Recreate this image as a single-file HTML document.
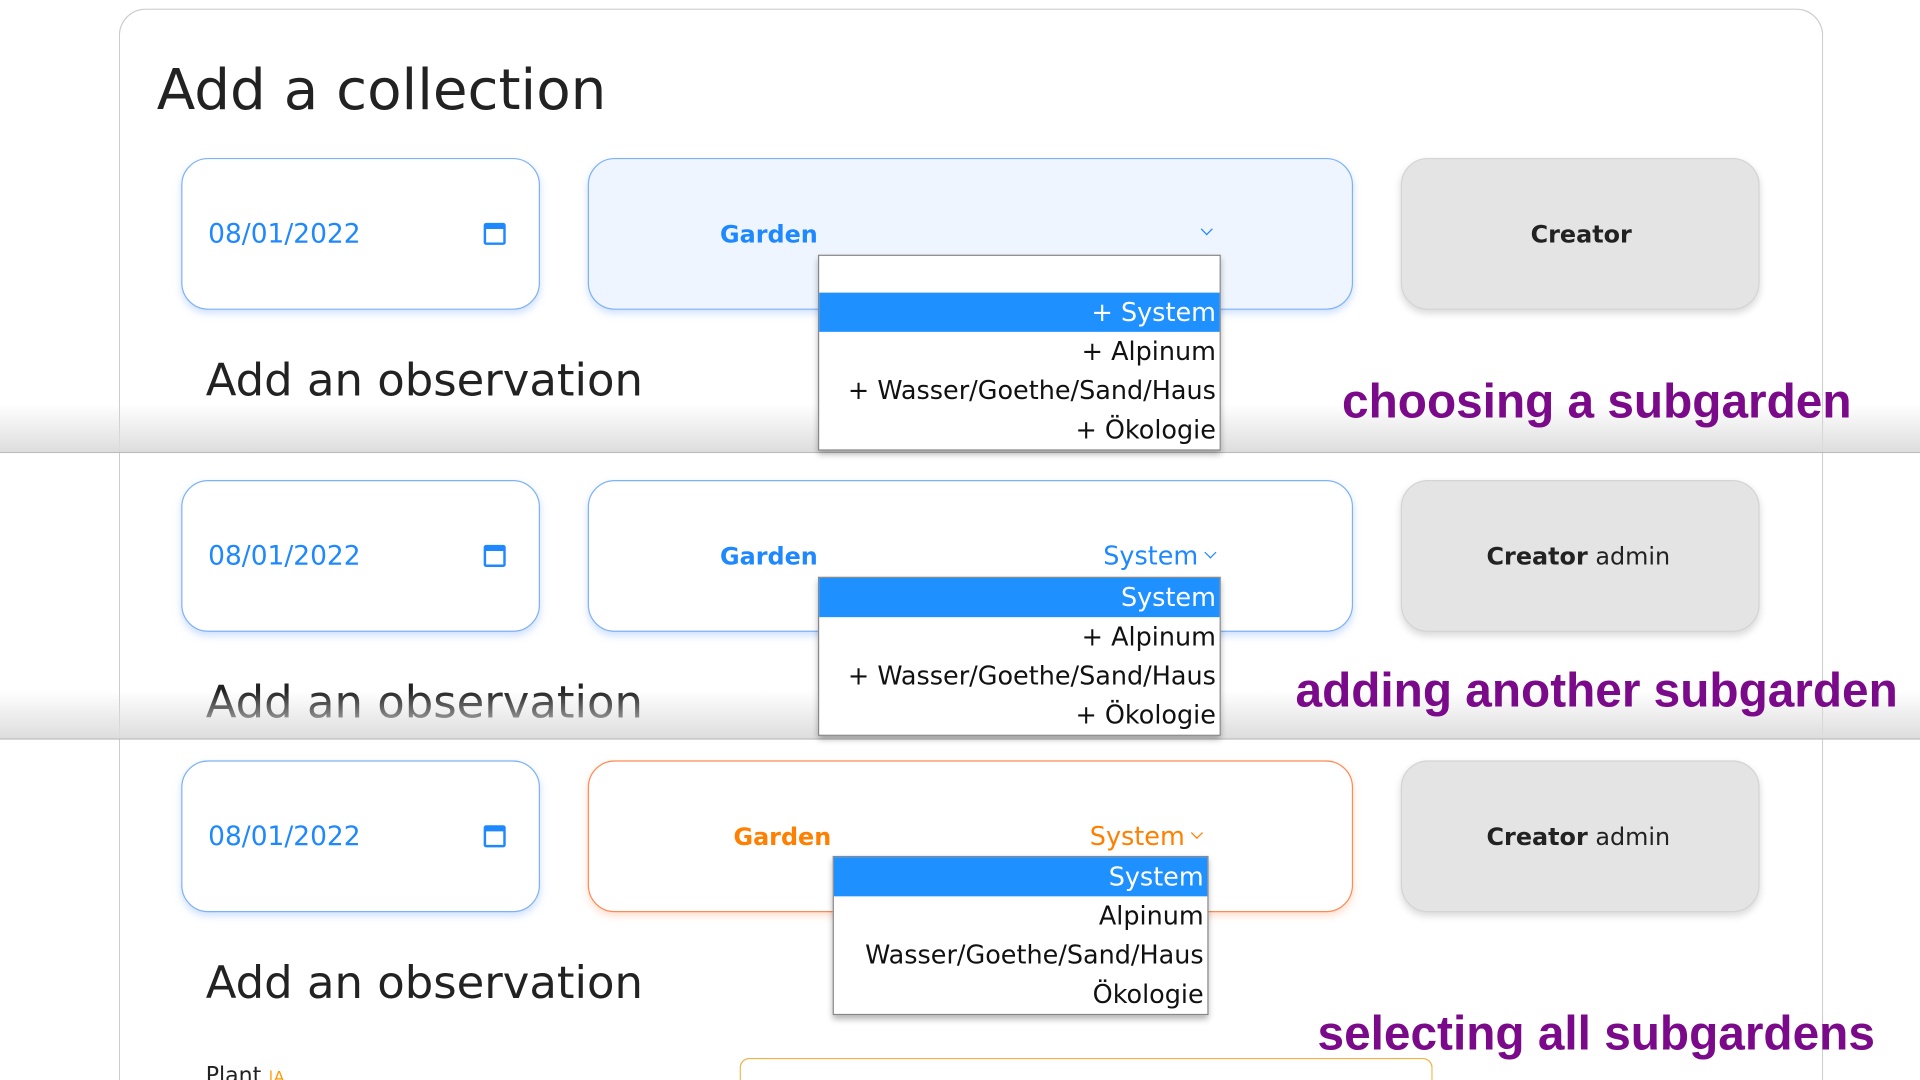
<!DOCTYPE html>
<html><head><meta charset="utf-8"><style>
*{box-sizing:border-box;margin:0;padding:0}
html,body{width:1920px;height:1080px;overflow:hidden;background:#fff}
#w{position:absolute;left:0;top:0;width:1568px;height:882px;overflow:hidden;transform:scale(1.22449);transform-origin:0 0;font-family:"DejaVu Sans","Liberation Sans",sans-serif;color:#222}
.a{position:absolute}
.card{left:97px;top:7px;width:1392px;height:875px;border:1px solid #ccc;border-bottom:none;border-radius:22px 22px 0 0;background:#fff}
.box{position:absolute;border-radius:22px;border:1.5px solid #7fb2f5;box-shadow:0 3px 6px rgba(120,170,255,.35);background:#fff}
.cr{background:#e4e4e4;border:1.5px solid #d4d4d4;box-shadow:0 3px 6px rgba(0,0,0,.15)}
.t{position:absolute;white-space:nowrap}
.date{color:#1e88ff;font-size:21.6px}
.g{color:#1e88ff;font-weight:bold;font-size:19.5px}
.dd{position:absolute;background:#fff;border:1px solid #888;box-shadow:0 3px 5px rgba(0,0,0,.3);font-size:20.8px;color:#111}
.dd div{height:32px;line-height:32px;text-align:right;padding-right:3px;white-space:nowrap}
.dd .s{background:#1e90ff;color:#fff}
.obs{font-size:36.7px;color:#222}
.lab{color:#7a0a8a;font-family:"Liberation Sans",Arial,sans-serif;font-weight:bold;font-size:39px}
.band{position:absolute;left:0;width:1568px;height:40px;background:linear-gradient(#fff0,#ddd);border-bottom:1px solid #bbb}
.cal{position:absolute;width:18px;height:18px;border:2.5px solid #1e88ff;border-top-width:5px;border-radius:2px}
.chev{display:inline-block;width:9px;height:9px;border-right:2px solid currentColor;border-bottom:2px solid currentColor;transform:rotate(45deg) translate(-3px,-3px);margin-left:6px;vertical-align:middle}
</style></head><body><div id="w">
<div class="a card"></div>
<div class="t" style="left:128px;top:46px;font-size:46px">Add a collection</div>

<div class="box" style="left:148px;top:129px;width:293px;height:124px"></div>
<div class="t date" style="left:170px;top:179px">08/01/2022</div><div class="cal" style="left:395px;top:182px"></div>
<div class="box" style="left:480px;top:129px;width:625px;height:124px;background:#eef5ff"></div>
<div class="t g" style="left:588px;top:180px">Garden</div>
<div class="t" style="left:976px;top:181px;color:#1e88ff"><span class="chev" style="width:7px;height:7px;border-width:1.5px"></span></div>
<div class="box cr" style="left:1144px;top:129px;width:293px;height:124px"></div>
<div class="t" style="left:1250px;top:180px;font-size:19.5px;font-weight:bold">Creator</div>
<div class="t obs" style="left:168px;top:289px">Add an observation</div>
<div class="band" style="top:330px"></div>
<div class="dd" style="left:668px;top:208px;width:329px"><div style="height:30px"></div><div class="s">+ System</div><div>+ Alpinum</div><div>+ Wasser/Goethe/Sand/Haus</div><div>+ Ökologie</div></div>
<div class="t lab" style="left:1096px;top:307px">choosing a subgarden</div>

<div class="box" style="left:148px;top:392px;width:293px;height:124px"></div>
<div class="t date" style="left:170px;top:442px">08/01/2022</div><div class="cal" style="left:395px;top:445px"></div>
<div class="box" style="left:480px;top:392px;width:625px;height:124px"></div>
<div class="t g" style="left:588px;top:443px">Garden</div>
<div class="t" style="left:901px;top:442px;color:#1e88ff;font-size:20.8px">System<span class="chev" style="width:7px;height:7px;border-width:1.5px"></span></div>
<div class="box cr" style="left:1144px;top:392px;width:293px;height:124px"></div>
<div class="t" style="left:1214px;top:443px;font-size:19.5px"><b>Creator</b> admin</div>
<div class="t obs" style="left:168px;top:552px">Add an observation</div>
<div class="band" style="top:564px"></div>
<div class="dd" style="left:668px;top:471px;width:329px"><div class="s">System</div><div>+ Alpinum</div><div>+ Wasser/Goethe/Sand/Haus</div><div>+ Ökologie</div></div>
<div class="t lab" style="left:1058px;top:543px">adding another subgarden</div>

<div class="box" style="left:148px;top:621px;width:293px;height:124px"></div>
<div class="t date" style="left:170px;top:671px">08/01/2022</div><div class="cal" style="left:395px;top:674px"></div>
<div class="box" style="left:480px;top:621px;width:625px;height:124px;border-color:#ff8a55;box-shadow:0 3px 6px rgba(255,150,100,.3)"></div>
<div class="t g" style="left:599px;top:672px;color:#ff8000">Garden</div>
<div class="t" style="left:890px;top:671px;color:#ff8000;font-size:20.8px">System<span class="chev" style="width:7px;height:7px;border-width:1.5px"></span></div>
<div class="box cr" style="left:1144px;top:621px;width:293px;height:124px"></div>
<div class="t" style="left:1214px;top:672px;font-size:19.5px"><b>Creator</b> admin</div>
<div class="t obs" style="left:168px;top:781px">Add an observation</div>
<div class="dd" style="left:680px;top:699px;width:307px"><div class="s">System</div><div>Alpinum</div><div>Wasser/Goethe/Sand/Haus</div><div>Ökologie</div></div>
<div class="t lab" style="left:1076px;top:823px">selecting all subgardens</div>
<div class="a" style="left:168px;top:868px;width:120px;height:14px;overflow:hidden"><div class="t" style="left:0;top:0;font-size:18px">Plant <span style="color:#f90;font-size:13px">|A</span></div></div>
<div class="a" style="left:604px;top:864px;width:566px;height:18px;border:1.5px solid #f5b040;border-bottom:none;border-radius:8px 8px 0 0"></div>
</div></body></html>
